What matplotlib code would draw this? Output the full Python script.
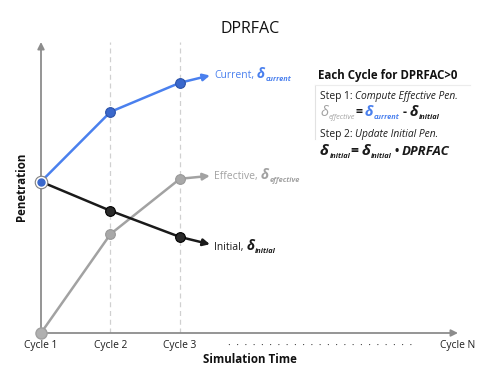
import matplotlib
matplotlib.use("Agg")
import matplotlib.pyplot as plt

plt.rcParams['font.family'] = ['Open Sans', 'DejaVu Sans']

# data (penetration in arbitrary units, 0..10)
cycles = [1, 2, 3]
tick_labels = ["Cycle 1", "Cycle 2", "Cycle 3"]
current = [5.2, 7.6, 8.6]
effective = [0.0, 3.4, 5.3]
initial = [5.2, 4.2, 3.3]
# where each trend arrow ends
tip_x = 3.43
current_tip = 8.85
effective_tip = 5.4
initial_tip = 3.05

BLUE = "#4a80ee"
BLUE_DOT = "#3a68cc"
GREY = "#a2a2a2"
BLACK = "#1a1a1a"
AXIS = "#8c8c8c"

W, H = 500, 375
fig = plt.figure(figsize=(5, 3.75), dpi=100)
ax = fig.add_axes([41 / W, 42 / H, 417 / W, 291 / H])
ax.set_xlim(1, 7)
ax.set_ylim(0, 10)
ax.axis("off")

# axes with arrow heads
ax.annotate("", xy=(1, 10), xytext=(1, 0), annotation_clip=False,
            arrowprops=dict(arrowstyle="-|>", color=AXIS, lw=1.3,
                            mutation_scale=10, shrinkA=0, shrinkB=0))
ax.annotate("", xy=(7, 0), xytext=(1, 0), annotation_clip=False,
            arrowprops=dict(arrowstyle="-|>", color=AXIS, lw=1.3,
                            mutation_scale=10, shrinkA=0, shrinkB=0))
for c in cycles[1:]:
    ax.plot([c, c], [0, 10], ls=(0, (4, 3)), color="#d0d0d0", lw=0.9, zorder=1)


def series(vals, tip, color, face, edge, z):
    ax.plot(cycles, vals, color=color, lw=1.8, zorder=z)
    ax.annotate("", xy=(tip_x, tip), xytext=(cycles[-1], vals[-1]),
                arrowprops=dict(arrowstyle="-|>", color=color, lw=1.8,
                                mutation_scale=10, shrinkA=0, shrinkB=0),
                zorder=z)
    ax.plot(cycles[1:], vals[1:], "o", ms=7, mfc=face, mec=edge, mew=0.8,
            zorder=z + 1)


series(effective, effective_tip, GREY, "#a8a8a8", "#989898", 3)
series(initial, initial_tip, BLACK, "#2a2a2a", "#000000", 5)
series(current, current_tip, BLUE, BLUE_DOT, "#2c52a8", 7)
ax.plot(1, effective[0], "o", ms=8, mfc="#b0b0b0", mec="#a0a0a0", zorder=9,
        clip_on=False)
ax.plot(1, current[0], "o", ms=9, mfc="white", mec="#808080", mew=0.8,
        zorder=9, clip_on=False)
ax.plot(1, current[0], "o", ms=5, mfc=BLUE_DOT, mec=BLUE_DOT, zorder=10,
        clip_on=False)

renderer = fig.canvas.get_renderer()


def run(x, y, pieces):
    # write text pieces one after the other, x/y in image pixels (baseline)
    for s, kw in pieces:
        kw = dict(kw)
        dy = kw.pop("dy", 0)
        gap = kw.pop("gap", 0)
        t = fig.text(x / W, 1 - (y + dy) / H, s, ha="left", va="baseline", **kw)
        x += t.get_window_extent(renderer).width + gap
    return x


def ptxt(x, y, s, **kw):
    return fig.text(x / W, 1 - y / H, s, **kw)


ptxt(250, 33, "DPRFAC", ha="center", va="baseline", fontsize=11.5, color="#111111")
ptxt(250, 363, "Simulation Time", ha="center", va="baseline", fontsize=8.3,
     fontweight="bold", color="#111111")
ptxt(22, 187, "Penetration", ha="center", va="center", rotation=90,
     fontsize=8.3, fontweight="bold", color="#111111")

for c, lab in zip(cycles + [7], tick_labels + ["Cycle N"]):
    ax.text(c, -0.52, lab, ha="center", va="baseline", fontsize=7.4,
            color="#1e1e1e")
ptxt(228, 348, "·  " * 22 + "·", ha="left", va="baseline", fontsize=7.5,
     color="#333333")

d_kw = dict(fontsize=10, fontweight="bold", style="italic")
s_kw = dict(fontsize=5.3, fontweight="bold", style="italic", dy=3)


def delta_label(x, y, word, sub, color):
    run(x, y, [(word, dict(fontsize=7.5, color=color, gap=3)),
               ("δ", dict(d_kw, color=color, gap=0.5)),
               (sub, dict(s_kw, color=color))])


delta_label(214, 78, "Current,", "current", BLUE)
delta_label(214, 179, "Effective,", "effective", GREY)
delta_label(214, 250, "Initial,", "initial", BLACK)

# explanation box
ptxt(318, 79, "Each Cycle for DPRFAC>0", ha="left", va="baseline",
     fontsize=8.3, fontweight="bold", color="#111111")
fig.add_artist(plt.Line2D([315 / W, 315 / W], [1 - 85 / H, 1 - 139 / H],
                          color="#e2e2e2", lw=0.8))
fig.add_artist(plt.Line2D([315 / W, 470 / W], [1 - 85 / H, 1 - 85 / H],
                          color="#ececec", lw=0.8))

run(320, 99, [("Step 1:", dict(fontsize=7.4, color="#1e1e1e", gap=2.5)),
              ("Compute Effective Pen.", dict(fontsize=7.4, style="italic",
                                              color="#1e1e1e"))])
run(320, 116, [("δ", dict(fontsize=10.5, style="italic", color=GREY, gap=0.5)),
               ("effective", dict(fontsize=5.3, style="italic", color=GREY, dy=3)),
               ("=", dict(fontsize=9, fontweight="bold", color=BLACK, gap=3)),
               ("δ", dict(d_kw, fontsize=10.5, color=BLUE, gap=0.5)),
               ("current", dict(s_kw, color=BLUE, gap=3)),
               ("-", dict(fontsize=9, fontweight="bold", color=BLACK, gap=2.5)),
               ("δ", dict(d_kw, fontsize=10.5, color=BLACK, gap=0.5)),
               ("initial", dict(s_kw, color=BLACK))])
run(320, 137, [("Step 2:", dict(fontsize=7.4, color="#1e1e1e", gap=2.5)),
               ("Update Initial Pen.", dict(fontsize=7.4, style="italic",
                                            color="#1e1e1e"))])
run(320, 155, [("δ", dict(d_kw, fontsize=11, color=BLACK, gap=0.5)),
               ("initial", dict(s_kw, color=BLACK)),
               ("=", dict(fontsize=10, fontweight="bold", color=BLACK, gap=3)),
               ("δ", dict(d_kw, fontsize=11, color=BLACK, gap=0.5)),
               ("initial", dict(s_kw, color=BLACK, gap=3)),
               ("•", dict(fontsize=8.5, fontweight="bold", color=BLACK, gap=2.5)),
               ("DPRFAC", dict(fontsize=9.5, fontweight="bold", style="italic",
                               color=BLACK))])

fig.savefig("out.png", dpi=100)
